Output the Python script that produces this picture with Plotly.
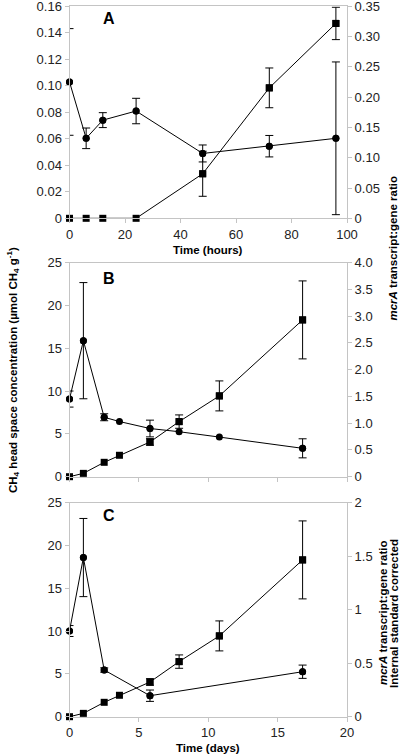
import plotly.graph_objects as go

# ---------------- data ----------------
hours = [0, 6, 12, 24, 48, 72, 96]
ch4_hours = [0, 0, 0, 0, 0.0336, 0.0984, 0.147]
ch4_hours_err = [0, 0, 0, 0, 0.017, 0.015, 0.0122]
ratio_hours = [0.225, 0.132, 0.162, 0.177, 0.107, 0.119, 0.132]
ratio_hours_err = [0.088, 0.017, 0.0123, 0.021, 0.014, 0.0177, 0.126]

days = [0, 1, 2.5, 3.6, 5.8, 7.9, 10.8, 16.8]
ch4_days = [0, 0.39, 1.68, 2.5, 4.05, 6.43, 9.43, 18.3]
ch4_days_err = [0, 0, 0, 0, 0.38, 0.78, 1.75, 4.55]

ratio_B = [1.45, 2.54, 1.11, 1.03, 0.90, 0.84, 0.74, 0.53]
ratio_B_err = [0.15, 1.085, 0.065, 0, 0.156, 0, 0, 0.178]

days_C = [0, 1, 2.5, 5.8, 16.8]
ratio_C = [0.80, 1.486, 0.436, 0.196, 0.42]
ratio_C_err = [0.051, 0.365, 0.02, 0.053, 0.062]

hour_ticks = [0, 20, 40, 60, 80, 100]
day_ticks = [0, 5, 10, 15, 20]
A_left_ticks = [0, 0.02, 0.04, 0.06, 0.08, 0.10, 0.12, 0.14, 0.16]
A_left_text = ["0", "0.02", "0.04", "0.06", "0.08", "0.10", "0.12", "0.14", "0.16"]
A_right_ticks = [0, 0.05, 0.10, 0.15, 0.20, 0.25, 0.30, 0.35]
A_right_text = ["0", "0.05", "0.10", "0.15", "0.20", "0.25", "0.30", "0.35"]
BC_left_ticks = [0, 5, 10, 15, 20, 25]
B_right_ticks = [0, 0.5, 1.0, 1.5, 2.0, 2.5, 3.0, 3.5, 4.0]
B_right_text = ["0", "0.5", "1.0", "1.5", "2.0", "2.5", "3.0", "3.5", "4.0"]
C_right_ticks = [0, 0.5, 1, 1.5, 2]
C_right_text = ["0", "0.5", "1", "1.5", "2"]

# ---------------- figure ----------------
W, H = 400, 755
FONT = "Liberation Sans, Arial, sans-serif"
GRAY = "#c4c4c4"

def px_x(p):
    return p / W

def px_y(p):
    return 1 - p / H

xdom = [px_x(69.5), px_x(347)]
domA = [px_y(218.3), px_y(6.2)]
domB = [px_y(476.7), px_y(262.5)]
domC = [px_y(716.7), px_y(502.5)]

fig = go.Figure()


def add_series(xs, ys, errs, xa, ya, symbol):
    fig.add_trace(go.Scatter(
        x=xs, y=ys, xaxis=xa, yaxis=ya, mode="lines+markers",
        line=dict(color="black", width=1),
        marker=dict(symbol=symbol, size=7, color="black"),
        showlegend=False, cliponaxis=False, hoverinfo="skip"))
    ex = [x for x, e in zip(xs, errs) if e]
    ey = [y for y, e in zip(ys, errs) if e]
    ee = [e for e in errs if e]
    fig.add_trace(go.Scatter(
        x=ex, y=ey, xaxis=xa, yaxis=ya, mode="markers",
        marker=dict(symbol=symbol, size=7, color="black"),
        error_y=dict(type="data", array=ee, color="black", thickness=1, width=4),
        showlegend=False, cliponaxis=False, hoverinfo="skip"))


add_series(hours, ch4_hours, ch4_hours_err, "x", "y", "square")
add_series(hours, ratio_hours, ratio_hours_err, "x", "y2", "circle")
add_series(days, ch4_days, ch4_days_err, "x2", "y3", "square")
add_series(days, ratio_B, ratio_B_err, "x2", "y4", "circle")
add_series(days, ch4_days, ch4_days_err, "x3", "y5", "square")
add_series(days_C, ratio_C, ratio_C_err, "x3", "y6", "circle")

tickfont = dict(family=FONT, size=13, color="#222")
common = dict(showline=True, linecolor=GRAY, linewidth=1, ticks="outside",
              ticklen=4, tickcolor=GRAY, tickwidth=1, showgrid=False,
              zeroline=False, tickfont=tickfont, fixedrange=True,
              automargin=False, ticklabeloverflow="allow")

fig.update_layout(
    template="none",
    width=W, height=H, margin=dict(l=0, r=0, t=0, b=0, autoexpand=False),
    paper_bgcolor="white", plot_bgcolor="white",
    font=dict(family=FONT, color="black"),
    xaxis=dict(domain=xdom, anchor="y", range=[0, 100], tickvals=hour_ticks,
               mirror=True, **common),
    yaxis=dict(domain=domA, anchor="x", range=[0, 0.16], tickvals=A_left_ticks,
               ticktext=A_left_text, **common),
    yaxis2=dict(overlaying="y", side="right", anchor="x", range=[0, 0.35],
                tickvals=A_right_ticks, ticktext=A_right_text, **common),
    xaxis2=dict(domain=xdom, anchor="y3", range=[0, 20], tickvals=day_ticks,
                showticklabels=False, mirror=True, **common),
    yaxis3=dict(domain=domB, anchor="x2", range=[0, 25], tickvals=BC_left_ticks, **common),
    yaxis4=dict(overlaying="y3", side="right", anchor="x2", range=[0, 4],
                tickvals=B_right_ticks, ticktext=B_right_text, **common),
    xaxis3=dict(domain=xdom, anchor="y5", range=[0, 20], tickvals=day_ticks,
                mirror=True, **common),
    yaxis5=dict(domain=domC, anchor="x3", range=[0, 25], tickvals=BC_left_ticks, **common),
    yaxis6=dict(overlaying="y5", side="right", anchor="x3", range=[0, 2],
                tickvals=C_right_ticks, ticktext=C_right_text, **common),
)

title_font = dict(family=FONT, size=11.5, color="black")
letter_font = dict(family=FONT, size=16, color="black")


def ann(text, x, y, font, angle=0):
    fig.add_annotation(text=text, x=px_x(x), y=px_y(y), xref="paper", yref="paper",
                       showarrow=False, font=font, textangle=angle,
                       xanchor="center", yanchor="middle")


ann("<b>A</b>", 108.7, 18.5, letter_font)
ann("<b>B</b>", 109.3, 278.3, letter_font)
ann("<b>C</b>", 109.3, 515.7, letter_font)
ann("<b>Time (hours)</b>", 208, 250, title_font)
ann("<b>Time (days)</b>", 208, 748, title_font)
ann("<b>CH<sub>4</sub> head space concentration (µmol CH<sub>4</sub> g<sup>-1</sup>)</b>",
    13, 370, title_font, -90)
ann("<b><i>mcrA</i> transcript:gene ratio</b>", 392, 248.5, title_font, -90)
ann("<b><i>mcrA</i> transcript:gene ratio</b>", 382.5, 613.5, title_font, -90)
ann("<b>Internal standard corrected</b>", 393.5, 613.5, title_font, -90)

fig.write_html(
    "out.html",
    config={"staticPlot": True, "displayModeBar": False},
    post_script="document.body.style.margin='0';document.body.style.padding='0';",
)
